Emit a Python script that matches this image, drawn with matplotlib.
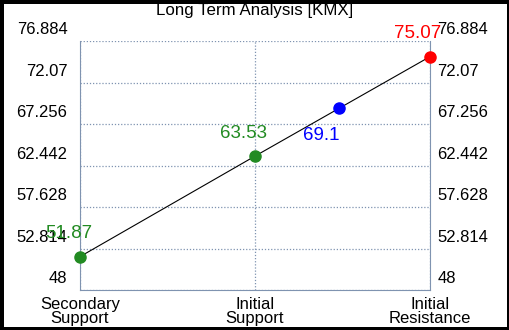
import matplotlib
matplotlib.use("Agg")
import matplotlib.pyplot as plt
from matplotlib.transforms import ScaledTranslation

# Dados do grafico
categorias = ["Secondary\nSupport", "Initial\nSupport", "Initial\nResistance"]
linha_x = [0, 1, 2]
linha_y = [51.87, 63.53, 75.07]
pontos_x = [0, 1, 1.48, 2]
pontos_y = [51.87, 63.53, 69.1, 75.07]
pontos_cor = ["#228b22", "#228b22", "#0000ff", "#ff0000"]
rotulos = ["51.87", "63.53", "69.1", "75.07"]
rotulo_desloc = [(-11, 23), (-11, 23), (-18, -27), (-12, 23)]  # pixels
y_ticks = [48, 52.814, 57.628, 62.442, 67.256, 72.07, 76.884]
y_tick_labels = ["48", "52.814", "57.628", "62.442", "67.256", "72.07", "76.884"]

plt.rcParams["font.family"] = ["Liberation Sans", "DejaVu Sans"]

fig = plt.figure(figsize=(5.1, 3.3), dpi=100, facecolor="white",
                 edgecolor="black", linewidth=5)
ax = fig.add_axes([80 / 510, 40 / 330, 350 / 510, 249 / 330])

cor_eixo = "#7f93b0"
ax.plot(linha_x, linha_y, color="black", lw=0.8, zorder=2)
for xv, yv, c, r, (dx, dy) in zip(pontos_x, pontos_y, pontos_cor, rotulos, rotulo_desloc):
    ax.plot(xv, yv, "o", color=c, ms=8, clip_on=False, zorder=3)
    ax.annotate(r, (xv, yv), xytext=(dx * 0.72, dy * 0.72), textcoords="offset points",
                ha="center", va="center", color=c, fontsize=13.5, annotation_clip=False)

ax.set_xlim(0, 2)
ax.set_ylim(48, 76.884)
ax.set_xticks(linha_x)
ax.set_xticklabels(categorias, fontsize=12, linespacing=0.92)
ax.set_yticks(y_ticks)
ax.set_yticklabels(y_tick_labels, fontsize=12)
ax.tick_params(axis="x", length=0, pad=5)
ax.tick_params(axis="y", length=0, left=True, right=True, labelleft=True, labelright=True, pad=9)

# rotulos do eixo y ficam um pouco acima das linhas de grade
for t in ax.yaxis.get_major_ticks():
    t.label1.set_transform(t.label1.get_transform() + ScaledTranslation(0, 13 / 100, fig.dpi_scale_trans))
    t.label2.set_transform(t.label2.get_transform() + ScaledTranslation(-5 / 100, 13 / 100, fig.dpi_scale_trans))

ax.grid(True, color=cor_eixo, linestyle=(0, (1, 1.5)), lw=0.9)
for lado in ["left", "right", "bottom"]:
    ax.spines[lado].set_color(cor_eixo)
ax.spines["top"].set_visible(False)

fig.text(0.5, 1 - 11 / 330, "Long Term Analysis [KMX]", ha="center", va="center", fontsize=12.2)

fig.savefig("out.png", dpi=100, facecolor=fig.get_facecolor(), edgecolor=fig.get_edgecolor())
